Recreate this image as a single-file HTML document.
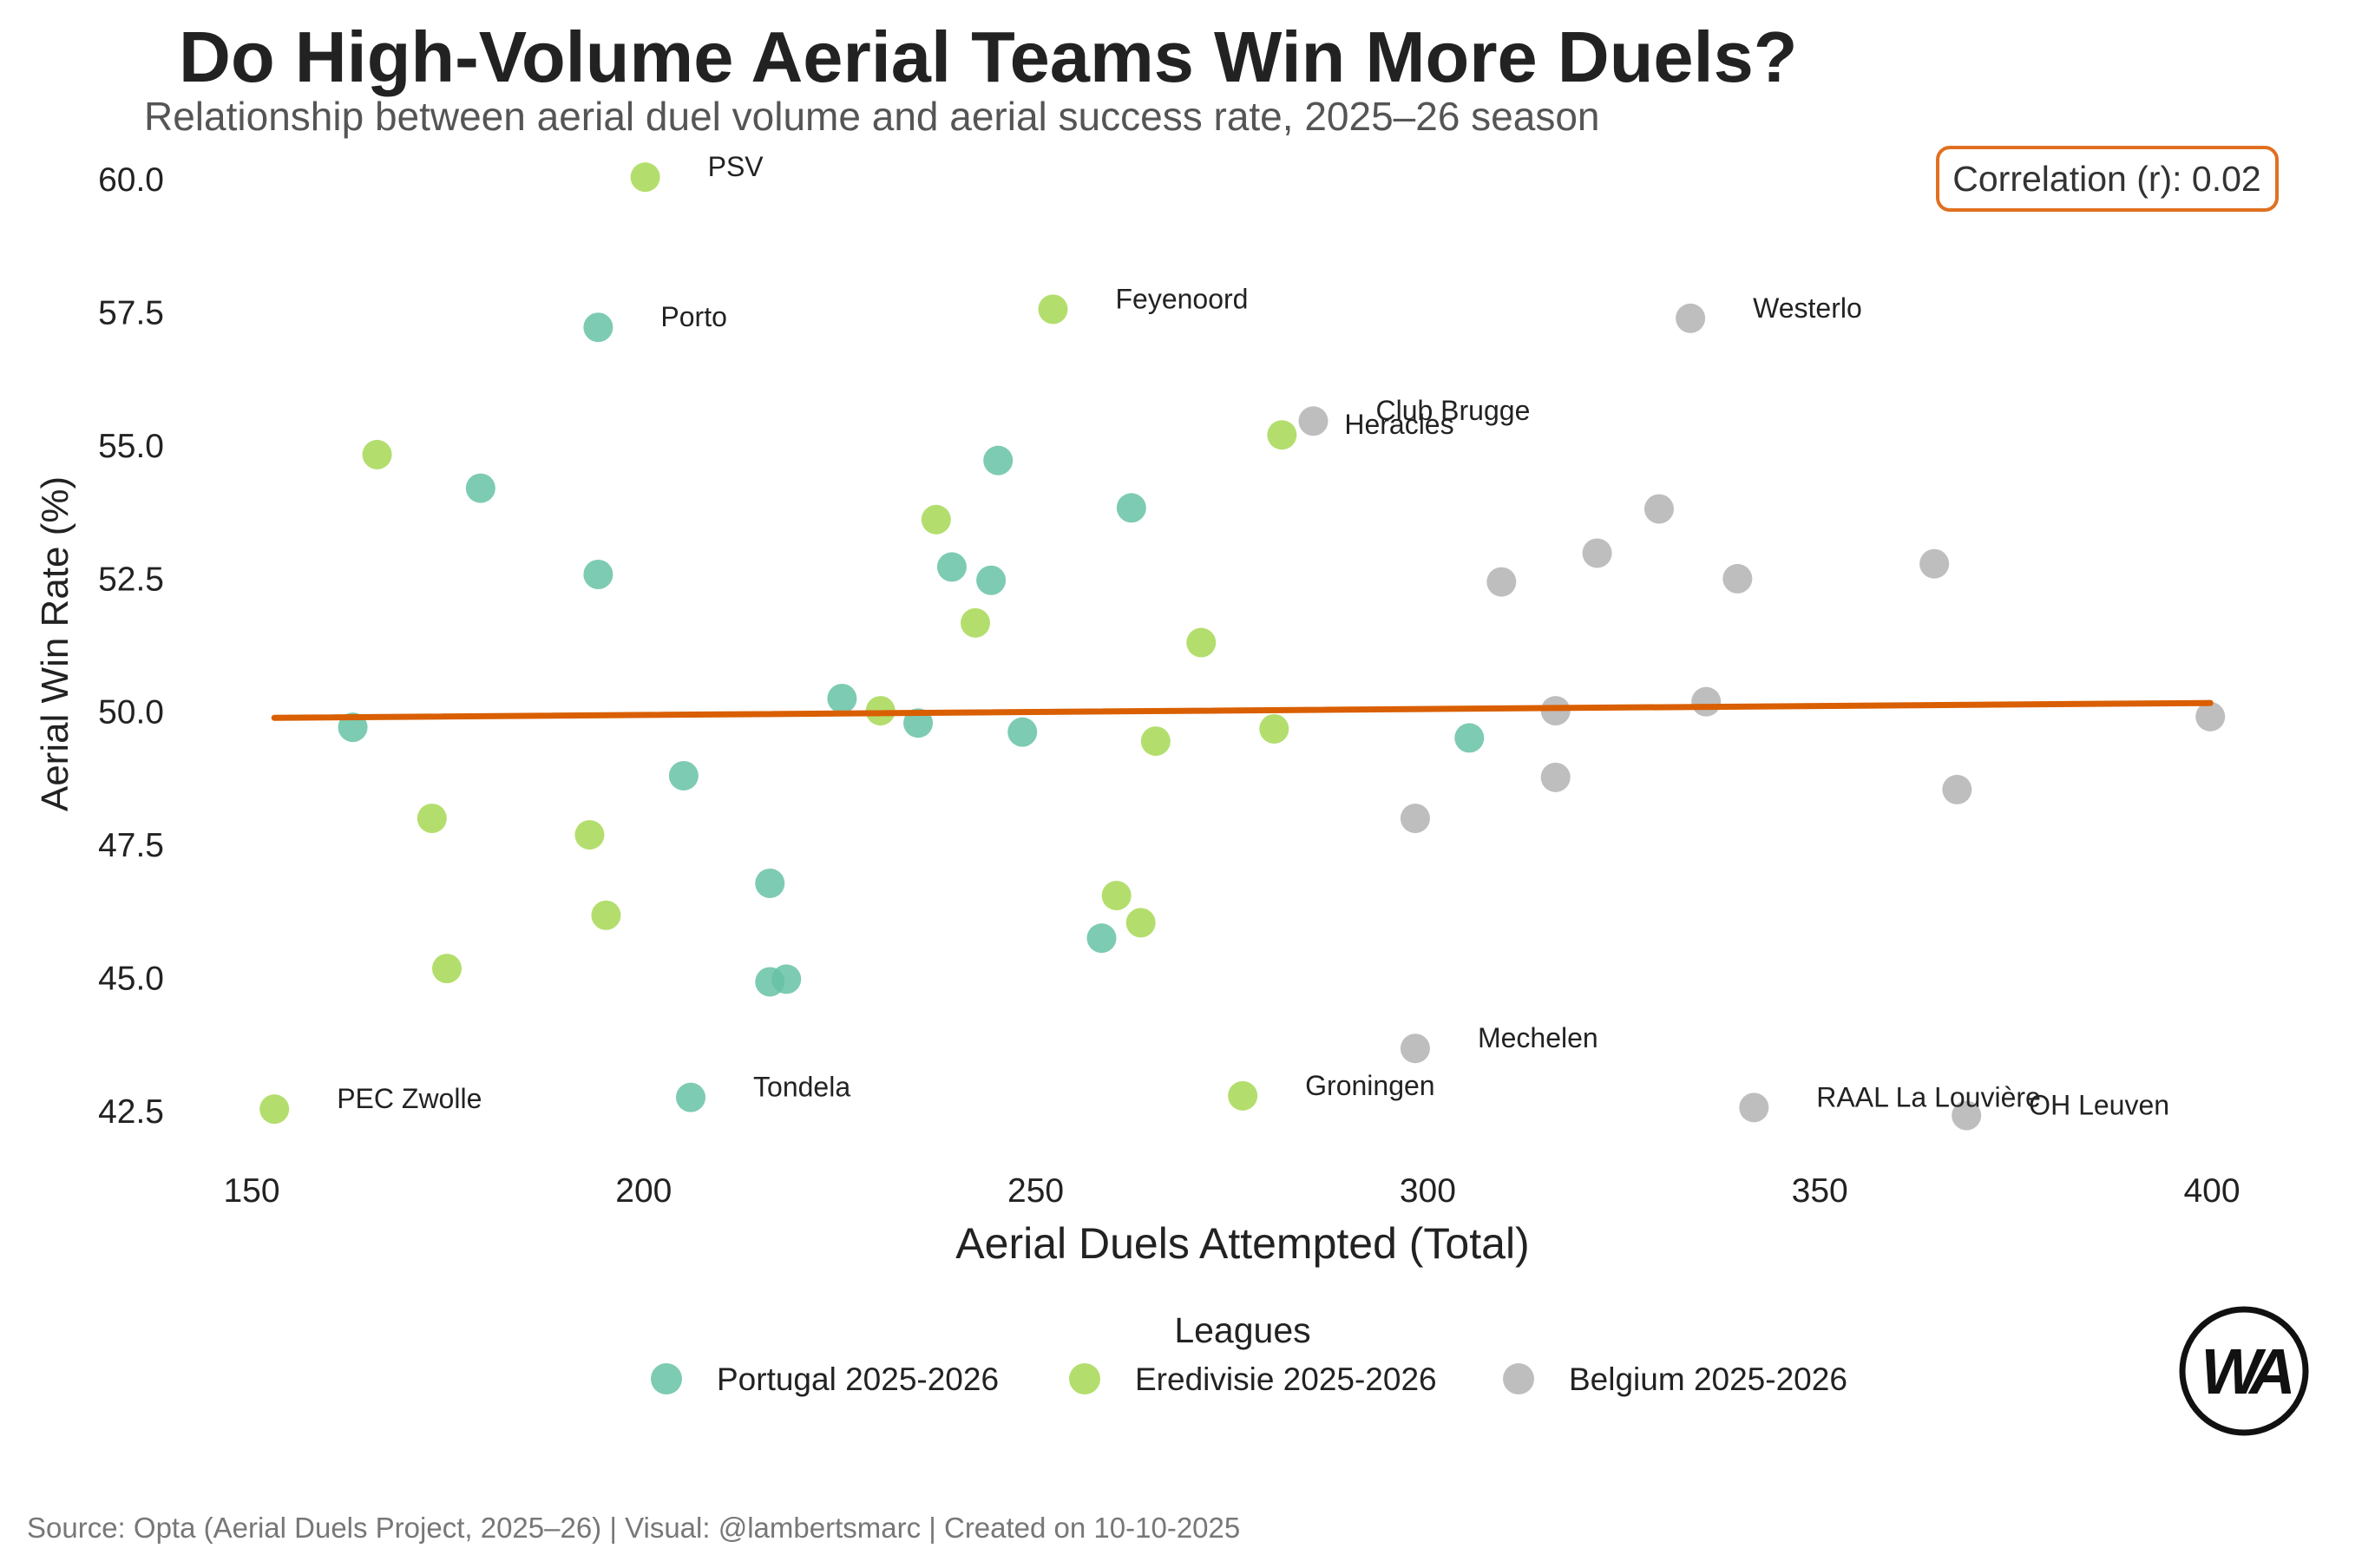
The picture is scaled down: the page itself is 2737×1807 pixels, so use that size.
<!DOCTYPE html>
<html><head><meta charset="utf-8">
<style>
html,body{margin:0;padding:0;background:#fff;}
svg{display:block;font-family:"Liberation Sans",Arial,sans-serif;}
</style></head>
<body>
<svg id="chart" width="2737" height="1807" viewBox="0 0 2737 1807" xmlns="http://www.w3.org/2000/svg">
<rect width="2737" height="1807" fill="#fff"/>
<text x="206" y="94" font-size="83" font-weight="bold" fill="#222">Do High-Volume Aerial Teams Win More Duels?</text>
<text x="166" y="150" font-size="46" fill="#555">Relationship between aerial duel volume and aerial success rate, 2025–26 season</text>
<g id="yticks"></g>
<g id="xticks"></g>
<text transform="translate(78,742) rotate(-90)" text-anchor="middle" font-size="44" fill="#222">Aerial Win Rate (%)</text>
<text x="1432" y="1450" text-anchor="middle" font-size="50" fill="#222">Aerial Duels Attempted (Total)</text>
<g id="points"></g>
<g id="trend"></g>
<g id="labels"></g>
<g>
<rect x="2233" y="170" width="391" height="72" rx="14" fill="#fff" stroke="#e07020" stroke-width="4"/>
<text id="corrText" x="2428" y="220" text-anchor="middle" font-size="41" fill="#333">Correlation (r): 0.02</text>
</g>
<text x="1432" y="1547" text-anchor="middle" font-size="41" fill="#222">Leagues</text>
<g id="legend"></g>
<g>
<circle cx="2586" cy="1580" r="71" fill="#fff" stroke="#111" stroke-width="7"/>
<text x="2586" y="1606" text-anchor="middle" font-size="74" font-weight="bold" fill="#111" font-style="italic" letter-spacing="-10">WA</text>
</g>
<text x="31" y="1772" font-size="33" fill="#777">Source: Opta (Aerial Duels Project, 2025–26) | Visual: @lambertsmarc | Created on 10-10-2025</text>
</svg>
<script>
const leagues = ["Portugal 2025-2026","Eredivisie 2025-2026","Belgium 2025-2026"];
const leagueColors = ["#66c2a5","#a6d854","#b3b3b3"];
const portugalX = [194.2,179.2,194.2,162.9,205.1,216.1,216.1,218.2,206.0,225.3,235.0,239.3,244.3,245.2,248.3,262.2,258.4,305.3];
const portugalY = [57.21,54.19,52.57,49.70,48.79,46.77,44.92,44.97,42.75,50.24,49.78,52.71,52.46,54.71,49.61,53.82,45.74,49.50];
const portugalNames = ["Porto","","","","","","","","Tondela","","","","","","","","",""];
const eredivisieX = [200.2,252.2,166.0,237.3,242.3,281.4,271.1,230.2,265.3,280.4,173.0,193.1,195.2,174.9,260.3,263.4,152.9,276.4];
const eredivisieY = [60.03,57.55,54.82,53.60,51.66,55.19,51.29,50.01,49.44,49.67,47.99,47.68,46.17,45.17,46.54,46.03,42.53,42.78];
const eredivisieNames = ["PSV","Feyenoord","","","","Heracles","","","","","","","","","","","PEC Zwolle","Groningen"];
const belgiumX = [333.5,285.4,329.5,321.6,309.4,339.5,364.6,316.3,335.5,399.8,316.3,298.4,367.5,298.4,341.6,368.7];
const belgiumY = [57.38,55.45,53.80,52.97,52.43,52.49,52.77,50.01,50.18,49.90,48.76,47.99,48.53,43.67,42.56,42.41];
const belgiumNames = ["Westerlo","Club Brugge","","","","","","","","","","","","Mechelen","RAAL La Louvière","OH Leuven"];
const xTicks = [150,200,250,300,350,400];
const yTicks = [42.5,45.0,47.5,50.0,52.5,55.0,57.5,60.0];

const NS="http://www.w3.org/2000/svg";
function sx(v){return 290+(v-150)*(2549-290)/250;}
function sy(v){return 206+(60-v)*(1280-206)/17.5;}
function mk(tag,attrs,parent){const e=document.createElementNS(NS,tag);for(const k in attrs)e.setAttribute(k,attrs[k]);parent.appendChild(e);return e;}

const yg=document.getElementById('yticks');
yTicks.forEach(t=>{const e=mk('text',{x:189,y:sy(t)+14,'text-anchor':'end','font-size':39,fill:'#222'},yg);


e.textContent=t.toFixed(1);});
const xg=document.getElementById('xticks');
xTicks.forEach(t=>{const e=mk('text',{x:sx(t),y:1385,'text-anchor':'middle','font-size':39,fill:'#222'},xg);


e.textContent=t;});

const series=[[portugalX,portugalY,portugalNames],[eredivisieX,eredivisieY,eredivisieNames],[belgiumX,belgiumY,belgiumNames]];
const pg=document.getElementById('points'), lg=document.getElementById('labels');
let allX=[],allY=[];
series.forEach((s,i)=>{s[0].forEach((x,j)=>{const y=s[1][j];allX.push(x);allY.push(y);
const c=mk('circle',{cx:sx(x),cy:sy(y),r:17,fill:leagueColors[i],'fill-opacity':0.85},pg);


if(s[2][j]){const t=mk('text',{x:sx(x)+72,y:sy(y)-1,'font-size':32,fill:'#222'},lg);


t.textContent=s[2][j];}});});

const n=allX.length,mx=allX.reduce((a,b)=>a+b)/n,my=allY.reduce((a,b)=>a+b)/n;
let sxy=0,sxx=0,syy=0;allX.forEach((x,i)=>{sxy+=(x-mx)*(allY[i]-my);sxx+=(x-mx)**2;syy+=(allY[i]-my)**2;});
const slope=sxy/sxx,icpt=my-slope*mx;
const x0=Math.min(...allX),x1=Math.max(...allX);
const tl=mk('line',{x1:sx(x0),y1:sy(icpt+slope*x0),x2:sx(x1),y2:sy(icpt+slope*x1),stroke:'#d95f02','stroke-width':7,'stroke-linecap':'round'},document.getElementById('trend'));


document.getElementById('corrText').textContent='Correlation (r): '+(sxy/Math.sqrt(sxx*syy)).toFixed(2);

const lgd=document.getElementById('legend');
const lx=[768,1250,1750];
leagues.forEach((l,i)=>{const c=mk('circle',{cx:lx[i],cy:1589,r:18,fill:leagueColors[i],'fill-opacity':0.85},lgd);


const t=mk('text',{x:lx[i]+58,y:1602,'font-size':37,fill:'#222'},lgd);


t.textContent=l;});
</script>
</body></html>
